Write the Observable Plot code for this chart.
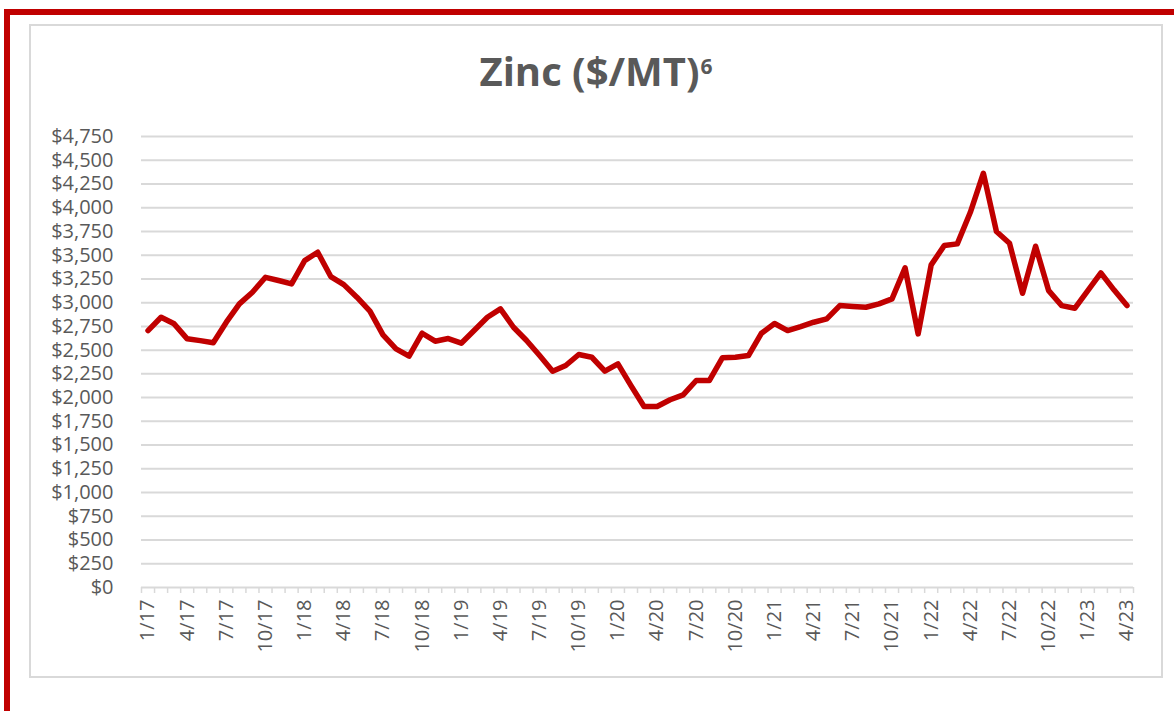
<!DOCTYPE html>
<html>
<head>
<meta charset="utf-8">
<script src="https://cdn.jsdelivr.net/npm/d3@7"></script>
<script src="https://cdn.jsdelivr.net/npm/@observablehq/plot@0.6"></script>
<style>
  html, body { margin: 0; padding: 0; background: #fff; width: 1174px; height: 711px; overflow: hidden; font-family: "Open Sans", sans-serif; }
  #frame { position: absolute; left: 4px; top: 9px; width: 1300px; height: 800px; border-top: 6px solid #C00000; border-left: 6px solid #C00000; box-sizing: border-box; }
  #box { position: absolute; left: 29px; top: 24px; width: 1134px; height: 654px; border: 2px solid #d9d9d9; box-sizing: border-box; }
  #title { position: absolute; left: 29px; width: 1134px; top: 51px; text-align: center; font-weight: 700; font-size: 40px; color: #595959; line-height: 1; }
  #title .sup { font-size: 21px; position: relative; top: -12px; vertical-align: baseline; margin-left: 1px; }
  #chart { position: absolute; left: 30px; top: 120px; }
</style>
</head>
<body>
<div id="frame"></div>
<div id="box"></div>
<div id="title">Zinc ($/MT)<span class="sup">6</span></div>
<div id="chart"></div>
<script>
const months = [
  "1/17","2/17","3/17","4/17","5/17","6/17","7/17","8/17","9/17","10/17","11/17","12/17",
  "1/18","2/18","3/18","4/18","5/18","6/18","7/18","8/18","9/18","10/18","11/18","12/18",
  "1/19","2/19","3/19","4/19","5/19","6/19","7/19","8/19","9/19","10/19","11/19","12/19",
  "1/20","2/20","3/20","4/20","5/20","6/20","7/20","8/20","9/20","10/20","11/20","12/20",
  "1/21","2/21","3/21","4/21","5/21","6/21","7/21","8/21","9/21","10/21","11/21","12/21",
  "1/22","2/22","3/22","4/22","5/22","6/22","7/22","8/22","9/22","10/22","11/22","12/22",
  "1/23","2/23","3/23","4/23"
];
const prices = [
  2706, 2846, 2777, 2619, 2600, 2577, 2794, 2987, 3110, 3267, 3233, 3198,
  3443, 3531, 3275, 3190, 3057, 2910, 2661, 2513, 2436, 2678, 2594, 2622,
  2573, 2710, 2846, 2935, 2741, 2601, 2443, 2278, 2338, 2454, 2425, 2278,
  2356, 2127, 1906, 1906, 1977, 2029, 2180, 2180, 2419, 2425, 2443, 2678,
  2780, 2706, 2748, 2794, 2829, 2969, 2959, 2952, 2987, 3040, 3366, 2671,
  3398, 3601, 3619, 3952, 4363, 3749, 3626, 3099, 3594, 3127, 2969, 2941,
  3127, 3314, 3135, 2969
];
const yTicks = [0,250,500,750,1000,1250,1500,1750,2000,2250,2500,2750,3000,3250,3500,3750,4000,4250,4500,4750];

const data = months.map((m, i) => ({i, month: m, price: prices[i]}));
const labelIdx = data.filter(d => d.i % 3 === 0).map(d => d.i);
const boundaries = [...data.map(d => d.i - 0.5), months.length - 0.5];
const fmt = d3.format(",");

const chart = Plot.plot({
  width: 1120,
  height: 540,
  marginLeft: 111,
  marginRight: 17,
  marginTop: 16,
  marginBottom: 73,
  style: { fontFamily: "'Open Sans', sans-serif", fontSize: "20px", color: "#595959", background: "transparent" },
  x: { domain: [-0.5, months.length - 0.5] },
  y: { domain: [0, 4750] },
  marks: [
    Plot.ruleY(yTicks, { stroke: "#d9d9d9", strokeWidth: 2 }),
    Plot.axisY({ ticks: yTicks, tickSize: 0, tickPadding: 28, tickFormat: d => "$" + fmt(d), label: null, fontSize: 20, fill: "#595959" }),
    Plot.axisX({ ticks: boundaries, tickSize: 6, tickFormat: () => "", stroke: "#d9d9d9", strokeWidth: 1.5, label: null }),
    Plot.axisX({ ticks: labelIdx, tickSize: 0, tickPadding: 12, tickRotate: -90, tickFormat: i => months[i], label: null, fontSize: 20, fill: "#595959" }),
    Plot.line(data, { x: "i", y: "price", stroke: "#C00000", strokeWidth: 5.5, strokeLinejoin: "round", strokeLinecap: "round" })
  ]
});
document.getElementById("chart").appendChild(chart);
</script>
</body>
</html>
